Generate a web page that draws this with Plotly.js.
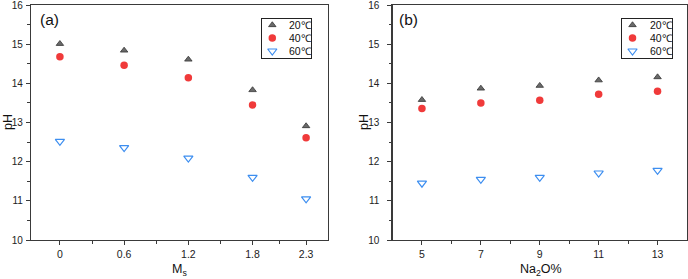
<!DOCTYPE html>
<html>
<head>
<meta charset="utf-8">
<script src="https://cdn.plot.ly/plotly-3.0.1.min.js"></script>
<style>
  html, body { margin: 0; padding: 0; background: #fff; }
  #chart { width: 688px; height: 279px; }
</style>
</head>
<body>
<div id="chart"></div>
<script>
// Silicate modulus series (panel a)
const msValues = [0, 0.6, 1.2, 1.8, 2.3];
const msTickLabels = ['0', '0.6', '1.2', '1.8', '2.3'];
const msPH20 = [15.01, 14.84, 14.61, 13.83, 12.91];
const msPH40 = [14.68, 14.46, 14.14, 13.45, 12.61];
const msPH60 = [12.52, 12.36, 12.09, 11.60, 11.05];

// Na2O content series (panel b)
const naValues = [5, 7, 9, 11, 13];
const naPH20 = [13.58, 13.87, 13.94, 14.08, 14.16];
const naPH40 = [13.36, 13.50, 13.57, 13.72, 13.80];
const naPH60 = [11.45, 11.55, 11.60, 11.71, 11.78];

const seriesNames = ['20\u2103', '40\u2103', '60\u2103'];
const yTicks = [10, 11, 12, 13, 14, 15, 16];

const W = 688, H = 279;
const MT = 5, MB = 39;
const plotH = H - MT - MB;
const px = v => v / W;                     // horizontal pixel -> paper fraction
const py = v => (H - MB - v) / plotH;      // vertical pixel (from top) -> paper fraction

const FONT = 'Liberation Sans, Arial, sans-serif';
const AXIS_COLOR = '#3a3a3a';

const styles = [
  {symbol: 'triangle-up', size: 6.5, color: '#6a6a6a', line: {color: '#333', width: 0.8}},
  {symbol: 'circle', size: 7.5, color: '#f03a3a', line: {color: '#f03a3a', width: 0}},
  {symbol: 'triangle-down-open', size: 8, color: '#3d8ef0', line: {color: '#3d8ef0', width: 1.2}}
];

function series(x, y, i, xa, ya) {
  return {
    type: 'scatter', mode: 'markers', x: x, y: y, name: seriesNames[i],
    xaxis: xa, yaxis: ya, showlegend: false, cliponaxis: false,
    marker: styles[i], hoverinfo: 'x+y'
  };
}

const traces = [
  series(msValues, msPH20, 0, 'x', 'y'),
  series(msValues, msPH40, 1, 'x', 'y'),
  series(msValues, msPH60, 2, 'x', 'y'),
  series(naValues, naPH20, 0, 'x2', 'y2'),
  series(naValues, naPH40, 1, 'x2', 'y2'),
  series(naValues, naPH60, 2, 'x2', 'y2')
];

// Legend keys, laid out row by row inside small helper axes
const keyRow = i => 1 - (i + 0.5) / seriesNames.length;
const legendAnnotations = [];
[['x3', 'y3'], ['x4', 'y4']].forEach(([xa, ya]) => {
  seriesNames.forEach((name, i) => {
    traces.push({
      type: 'scatter', mode: 'markers', x: [0.21], y: [keyRow(i)],
      xaxis: xa, yaxis: ya, showlegend: false, hoverinfo: 'skip',
      marker: styles[i]
    });
    legendAnnotations.push({
      xref: xa, yref: ya, x: 0.52, y: keyRow(i), text: name,
      showarrow: false, xanchor: 'left', yanchor: 'middle',
      font: {family: FONT, size: 10.5, color: '#111'}
    });
  });
});

function xAxis(domain, range, tickvals, ticktext, minorVals, anchor) {
  return {
    domain: domain, range: range, anchor: anchor,
    tickmode: 'array', tickvals: tickvals, ticktext: ticktext,
    ticks: 'outside', ticklen: 4, tickwidth: 1, tickcolor: AXIS_COLOR,
    minor: {tickmode: 'array', tickvals: minorVals, ticks: 'outside', ticklen: 2.5, tickwidth: 1, tickcolor: AXIS_COLOR},
    showline: true, linecolor: AXIS_COLOR, linewidth: 1.2, mirror: true,
    showgrid: false, zeroline: false,
    tickfont: {family: FONT, size: 10.5, color: '#222'}
  };
}

function yAxis(anchor, standoff) {
  return {
    domain: [0, 1], range: [10, 16], anchor: anchor,
    tickmode: 'array', tickvals: yTicks, ticklabeloverflow: 'allow',
    ticklabelstandoff: standoff,
    ticks: 'outside', ticklen: 4, tickwidth: 1, tickcolor: AXIS_COLOR,
    minor: {dtick: 0.5, tick0: 10, ticks: 'outside', ticklen: 2.5, tickwidth: 1, tickcolor: AXIS_COLOR},
    showline: true, linecolor: AXIS_COLOR, linewidth: 1.2, mirror: true,
    showgrid: false, zeroline: false,
    tickfont: {family: FONT, size: 10, color: '#222'}
  };
}

function keyAxis(domain, anchor) {
  return {
    domain: domain, range: [0, 1], fixedrange: true, anchor: anchor,
    showline: true, mirror: true, linecolor: '#222', linewidth: 1,
    showticklabels: false, ticks: '', showgrid: false, zeroline: false
  };
}

const textAnn = (x, y, text, size, extra) => Object.assign({
  xref: 'paper', yref: 'paper', x: px(x), y: py(y), text: text, showarrow: false,
  xanchor: 'center', yanchor: 'middle', font: {family: FONT, size: size, color: '#111'}
}, extra || {});

const layout = {
  width: W, height: H,
  margin: {l: 0, r: 0, t: MT, b: MB, pad: 0},
  paper_bgcolor: '#fff', plot_bgcolor: '#fff',
  showlegend: false,
  xaxis: xAxis([px(31), px(327.5)], [-0.27, 2.5], msValues, msTickLabels, [0.3, 0.9, 1.5, 2.05], 'y'),
  yaxis: yAxis('x', 1),
  xaxis2: xAxis([px(392.5), px(687)], [4, 14], naValues, naValues.map(String), [6, 8, 10, 12], 'y2'),
  yaxis2: yAxis('x2', 6),
  xaxis3: keyAxis([px(262), px(311)], 'y3'),
  yaxis3: keyAxis([py(57.5), py(18.5)], 'x3'),
  xaxis4: keyAxis([px(622), px(672)], 'y4'),
  yaxis4: keyAxis([py(57.5), py(18.5)], 'x4'),
  annotations: [
    textAnn(49, 20, '(a)', 15.5),
    textAnn(409, 20, '(b)', 15.5),
    textAnn(7.5, 122.5, 'pH', 12.5, {textangle: -90}),
    textAnn(363.5, 122.5, 'pH', 12.5, {textangle: -90}),
    textAnn(179, 270, 'M<sub>s</sub>', 12.5),
    textAnn(541, 270, 'Na<sub>2</sub>O%', 12.5)
  ].concat(legendAnnotations)
};

Plotly.newPlot('chart', traces, layout, {displayModeBar: false, staticPlot: true});
</script>
</body>
</html>
